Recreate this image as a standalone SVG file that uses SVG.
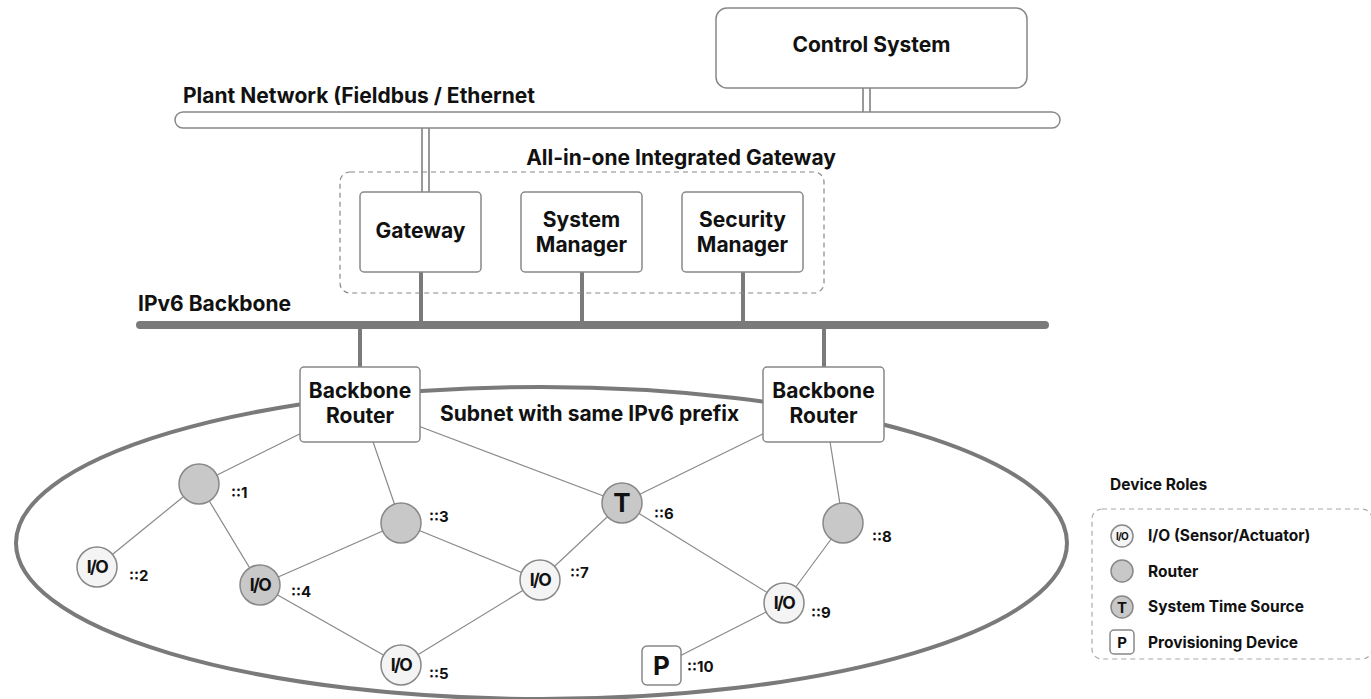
<svg xmlns="http://www.w3.org/2000/svg" width="1371" height="699" viewBox="0 0 1371 699">
<style>
text{font-family:Inter,"Liberation Sans",sans-serif;font-weight:700;fill:#111}
.box{fill:#fff;stroke:#888;stroke-width:1.5}
.io{fill:#f4f4f4;stroke:#888;stroke-width:1.5}
.rt{fill:#c8c8c8;stroke:#888;stroke-width:1.5}
.edge{stroke:#888;stroke-width:1.2;fill:none}
.thick{stroke:#7a7a7a;stroke-width:4;fill:none}
.dbl{stroke:#777;stroke-width:1.5;fill:none}
.lbl{font-size:15px}
.t19{font-size:21px}
.leg{font-size:15.5px}
.iot{font-size:17.5px;letter-spacing:-1.6px}
</style>
<rect width="1371" height="699" fill="#fff"/>

<g id="connectors">
  <line class="dbl" x1="863" y1="88" x2="863" y2="112"/>
  <line class="dbl" x1="870" y1="88" x2="870" y2="112"/>
  <line class="dbl" x1="422" y1="128" x2="422" y2="192"/>
  <line class="dbl" x1="429" y1="128" x2="429" y2="192"/>
  <line class="thick" x1="421" y1="272" x2="421" y2="325"/>
  <line class="thick" x1="582" y1="272" x2="582" y2="325"/>
  <line class="thick" x1="743" y1="272" x2="743" y2="325"/>
  <line class="thick" x1="360" y1="325" x2="360" y2="367"/>
  <line class="thick" x1="824" y1="325" x2="824" y2="367"/>
  <line class="edge" x1="360" y1="404" x2="199" y2="484"/>
  <line class="edge" x1="360" y1="404" x2="401" y2="523"/>
  <line class="edge" x1="360" y1="404" x2="622" y2="503"/>
  <line class="edge" x1="824" y1="404" x2="622" y2="503"/>
  <line class="edge" x1="824" y1="404" x2="843" y2="523"/>
  <line class="edge" x1="199" y1="484" x2="97" y2="567"/>
  <line class="edge" x1="199" y1="484" x2="260" y2="585"/>
  <line class="edge" x1="401" y1="523" x2="260" y2="585"/>
  <line class="edge" x1="401" y1="523" x2="540" y2="580"/>
  <line class="edge" x1="260" y1="585" x2="401" y2="665"/>
  <line class="edge" x1="401" y1="665" x2="540" y2="580"/>
  <line class="edge" x1="622" y1="503" x2="540" y2="580"/>
  <line class="edge" x1="622" y1="503" x2="784" y2="603"/>
  <line class="edge" x1="843" y1="523" x2="784" y2="603"/>
  <line class="edge" x1="784" y1="603" x2="662" y2="665"/>
</g>

<g id="control-system">
  <rect class="box" x="716" y="8" width="311" height="80" rx="11"/>
  <text x="871.5" y="52" text-anchor="middle" font-size="21">Control System</text>
</g>

<g id="plant-network">
  <rect x="175" y="112" width="885" height="16" rx="8" fill="#fff" stroke="#888" stroke-width="1.5"/>
  <text x="183" y="103" class="t19">Plant Network (Fieldbus / Ethernet</text>
</g>

<g id="integrated-gateway">
  <rect x="340" y="172" width="484" height="121" rx="10" fill="none" stroke="#888" stroke-width="1.2" stroke-dasharray="5 4"/>
  <text x="681" y="165" text-anchor="middle" class="t19">All-in-one Integrated Gateway</text>
</g>

<g id="gateway">
  <rect class="box" x="360" y="192" width="121" height="80" rx="4"/>
  <text x="420.5" y="238" text-anchor="middle" class="t19">Gateway</text>
</g>
<g id="system-manager">
  <rect class="box" x="521" y="192" width="121" height="80" rx="4"/>
  <text x="581.5" y="227" text-anchor="middle" class="t19">System</text>
  <text x="581.5" y="252" text-anchor="middle" class="t19">Manager</text>
</g>
<g id="security-manager">
  <rect class="box" x="682" y="192" width="121" height="80" rx="4"/>
  <text x="742.5" y="227" text-anchor="middle" class="t19">Security</text>
  <text x="742.5" y="252" text-anchor="middle" class="t19">Manager</text>
</g>

<g id="ipv6-backbone">
  <line x1="140" y1="325" x2="1045" y2="325" stroke="#7a7a7a" stroke-width="8" stroke-linecap="round"/>
  <text x="138" y="311" class="t19">IPv6 Backbone</text>
</g>

<g id="subnet">
  <ellipse cx="541.5" cy="543" rx="525.5" ry="156" fill="none" stroke="#7a7a7a" stroke-width="4"/>
  <text x="440" y="421" class="t19">Subnet with same IPv6 prefix</text>
</g>

<g id="backbone-router-left">
  <rect class="box" x="300" y="367" width="120" height="75" rx="4"/>
  <text x="360" y="398" text-anchor="middle" class="t19">Backbone</text>
  <text x="360" y="423" text-anchor="middle" class="t19">Router</text>
</g>
<g id="backbone-router-right">
  <rect class="box" x="763" y="367" width="121" height="75" rx="4"/>
  <text x="823.5" y="398" text-anchor="middle" class="t19">Backbone</text>
  <text x="823.5" y="423" text-anchor="middle" class="t19">Router</text>
</g>

<g id="node-1">
  <circle class="rt" cx="199" cy="484" r="20"/>
  <text x="231" y="498" class="lbl">::1</text>
</g>
<g id="node-2">
  <circle class="io" cx="97" cy="567" r="20"/>
  <text x="97" y="573" text-anchor="middle" class="iot">I/O</text>
  <text x="129" y="581" class="lbl">::2</text>
</g>
<g id="node-3">
  <circle class="rt" cx="401" cy="523" r="20"/>
  <text x="429" y="522" class="lbl">::3</text>
</g>
<g id="node-4">
  <circle class="rt" cx="260" cy="585" r="20"/>
  <text x="260" y="591" text-anchor="middle" class="iot">I/O</text>
  <text x="291" y="597" class="lbl">::4</text>
</g>
<g id="node-5">
  <circle class="io" cx="401" cy="665" r="20"/>
  <text x="401" y="671" text-anchor="middle" class="iot">I/O</text>
  <text x="429" y="679" class="lbl">::5</text>
</g>
<g id="node-6">
  <circle class="rt" cx="622" cy="503" r="20"/>
  <text x="622" y="512" text-anchor="middle" font-size="26">T</text>
  <text x="654" y="519" class="lbl">::6</text>
</g>
<g id="node-7">
  <circle class="io" cx="540" cy="580" r="20"/>
  <text x="540" y="586" text-anchor="middle" class="iot">I/O</text>
  <text x="570" y="578" class="lbl">::7</text>
</g>
<g id="node-8">
  <circle class="rt" cx="843" cy="523" r="20"/>
  <text x="872" y="542" class="lbl">::8</text>
</g>
<g id="node-9">
  <circle class="io" cx="784" cy="603" r="20"/>
  <text x="784" y="609" text-anchor="middle" class="iot">I/O</text>
  <text x="811" y="618" class="lbl">::9</text>
</g>
<g id="node-10">
  <rect class="box" x="642" y="646" width="39" height="39" rx="5"/>
  <text x="661.5" y="675" text-anchor="middle" font-size="26">P</text>
  <text x="687" y="672" class="lbl">::10</text>
</g>

<g id="legend">
  <text x="1110" y="490" class="leg">Device Roles</text>
  <rect x="1092" y="509" width="280" height="150" rx="10" fill="none" stroke="#aaa" stroke-width="1.2" stroke-dasharray="5 4"/>
  <circle class="io" cx="1122" cy="536" r="11"/>
  <text x="1122" y="540" text-anchor="middle" font-size="10" letter-spacing="-0.8">I/O</text>
  <text x="1148" y="541" class="leg">I/O (Sensor/Actuator)</text>
  <circle class="rt" cx="1122" cy="571" r="11"/>
  <text x="1148" y="577" class="leg">Router</text>
  <circle class="rt" cx="1122" cy="607" r="11"/>
  <text x="1122" y="612.5" text-anchor="middle" font-size="15">T</text>
  <text x="1148" y="612" class="leg">System Time Source</text>
  <rect class="box" x="1110" y="630" width="24" height="24" rx="4"/>
  <text x="1122" y="648" text-anchor="middle" font-size="15">P</text>
  <text x="1148" y="648" class="leg">Provisioning Device</text>
</g>
</svg>
